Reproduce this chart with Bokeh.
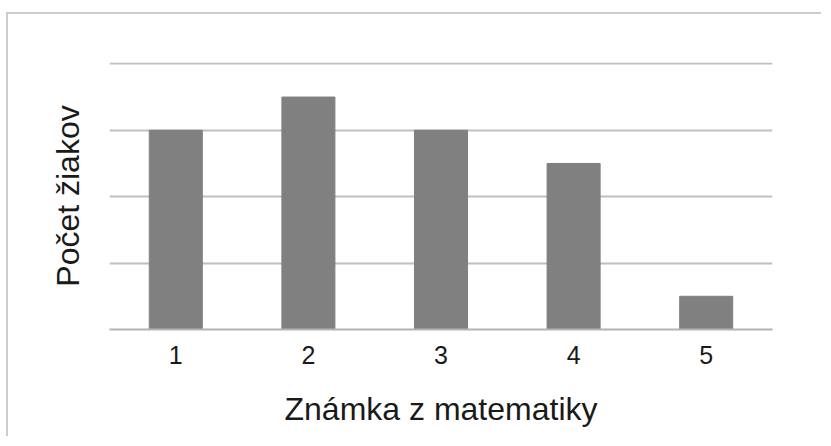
from bokeh.plotting import figure
from bokeh.models import FixedTicker, ColumnDataSource, Range1d, Spacer
from bokeh.layouts import column, row
from bokeh.embed import file_html
from bokeh.resources import INLINE

grades = ["1", "2", "3", "4", "5"]
counts = [6, 7, 6, 5, 1]
grid_ticks = [0, 2, 4, 6, 8]

src = ColumnDataSource(dict(x=grades, top=counts))

p = figure(x_range=grades, y_range=Range1d(0, 8.04), width=815, height=424,
           output_backend="svg", toolbar_location=None,
           min_border_left=101, min_border_right=51, min_border_top=48, min_border_bottom=109)
p.styles = {"border-top": "2px solid #cccccc", "border-left": "2px solid #cccccc"}
p.outline_line_color = None

p.vbar(x="x", top="top", width=0.4, source=src, color="#808080")

p.xgrid.grid_line_color = None
p.ygrid.ticker = FixedTicker(ticks=grid_ticks)
p.ygrid.grid_line_color = "#bfbfbf"
p.ygrid.grid_line_width = 2

p.yaxis.ticker = FixedTicker(ticks=[])
p.yaxis.axis_line_color = None
p.yaxis.major_tick_line_color = None
p.yaxis.minor_tick_line_color = None
p.yaxis.axis_label = "Počet žiakov"
p.yaxis.axis_label_text_font = "Liberation Sans"
p.yaxis.axis_label_text_font_style = "normal"
p.yaxis.axis_label_text_font_size = "32px"
p.yaxis.axis_label_text_color = "#1a1a1a"
p.yaxis.axis_label_standoff = 24

p.xaxis.axis_line_color = "#b3b3b3"
p.xaxis.axis_line_width = 2
p.xaxis.major_tick_line_color = None
p.xaxis.minor_tick_line_color = None
p.xaxis.major_label_text_font = "Liberation Sans"
p.xaxis.major_label_text_font_size = "25px"
p.xaxis.major_label_text_color = "#1a1a1a"
p.xaxis.major_label_standoff = 10
p.xaxis.axis_label = "Známka z matematiky"
p.xaxis.axis_label_text_font = "Liberation Sans"
p.xaxis.axis_label_text_font_style = "normal"
p.xaxis.axis_label_text_font_size = "32px"
p.xaxis.axis_label_text_color = "#1a1a1a"
p.xaxis.axis_label_standoff = 24

layout = column(Spacer(width=821, height=12), row(Spacer(width=6, height=424), p))
open("out.html", "w").write(file_html(layout, INLINE))
